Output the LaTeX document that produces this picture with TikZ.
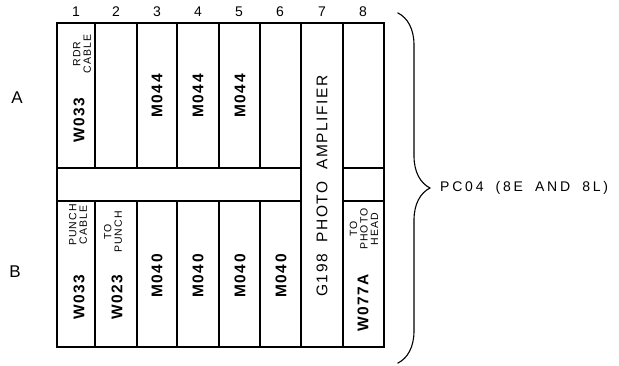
\documentclass[tikz,border=0pt]{standalone}
\usepackage{fontspec}
\setmainfont{Liberation Sans}
\newfontfamily\lettering{Liberation Sans}[LetterSpace=10]
\newfontfamily\spacedletter{Liberation Sans}[LetterSpace=10,WordSpace=2]
\newfontfamily\wideletter{Liberation Sans}[LetterSpace=20,WordSpace=1.8]
\usetikzlibrary{decorations.pathreplacing,calc}

\tikzset{
  module/.style={rotate=90,font=\lettering\bfseries\fontsize{15.5}{15.5}\selectfont,inner sep=0pt},
  cable/.style={rotate=90,font=\lettering\fontsize{10.5}{10.5}\selectfont,align=center,inner sep=0pt},
  colnum/.style={font=\fontsize{14}{14}\selectfont,inner sep=0pt},
  rowlbl/.style={font=\fontsize{17}{17}\selectfont,inner sep=0pt},
  grid/.style={line width=1.4pt},
}

\begin{document}
\begin{tikzpicture}[x=1pt,y=-1pt,line cap=rect]
		\useasboundingbox (0,0) rectangle (619,365);
		\def\ytop{23}
		\def\ybot{347}
		\def\ra{168}
		\def\rb{201}
		
		\coordinate (TL)at(57,\ytop);
		\coordinate (BR)at(384,\ybot);
		
		% frame and slots
		\draw[line width=1.7pt](TL)rectangle(BR);
		\foreach \x in {95,137,177,219,260}{
			\draw[grid](\x,\ytop)--(\x,\ra);
			\draw[grid](\x,\rb)--(\x,\ybot);
		}
		\draw[grid](301,\ytop)--(301,\ybot);
		\draw[grid](343,\ytop)--(343,\ybot);
		\draw[grid](57,\ra)--(301,\ra) (343,\ra)--(384,\ra);
		\draw[grid](57,\rb)--(301,\rb) (343,\rb)--(384,\rb);
		
		% slot numbers and rows
		\foreach \n/\x in {1/76,2/116,3/157,4/198,5/239,6/280,7/322,8/363}
			\node[colnum](num\n)at(\x,12){\n};
		\node[rowlbl](rowA)at(17,98){A};
		\node[rowlbl](rowB)at(15,272){B};
		
		% row A
		\node[module](a1)at(79,120){W033};
		\node[cable](a1c)at(82,54){RDR\\CABLE};
		\foreach \x/\n in {157/3,198/4,240/5}
			\node[module](a\n)at(\x,96){M044};
		
		% row B
		\node[module](b1)at(79,297){W033};
		\node[cable](b1c)at(78,225){PUNCH\\CABLE};
		\node[module](b2)at(117,297){W023};
		\node[cable](b2c)at(113,232){TO\\PUNCH};
		\foreach \x/\n in {157/3,198/4,240/5,281/6}
			\node[module](b\n)at(\x,276){M040};
		\node[module](b8)at(363,303){W077A};
		\node[cable](b8c)at(364,229){TO\\PHOTO\\HEAD};
		
		% full height slot
		\node[module,font=\spacedletter\fontsize{15.5}{15.5}\selectfont](amp)at(322,186){G198 PHOTO AMPLIFIER};
		
		% brace
		\coordinate (brT)at(398,13);
		\coordinate (brB)at(398,363);
		\draw[line width=1.1pt,decorate,decoration={brace,amplitude=32pt}](brT)--(brB);
		\node[anchor=west,inner sep=0pt,font=\wideletter\fontsize{14}{14}\selectfont](pc)at(440,188){PC04 (8E AND 8L)};
	\end{tikzpicture}
\end{document}
